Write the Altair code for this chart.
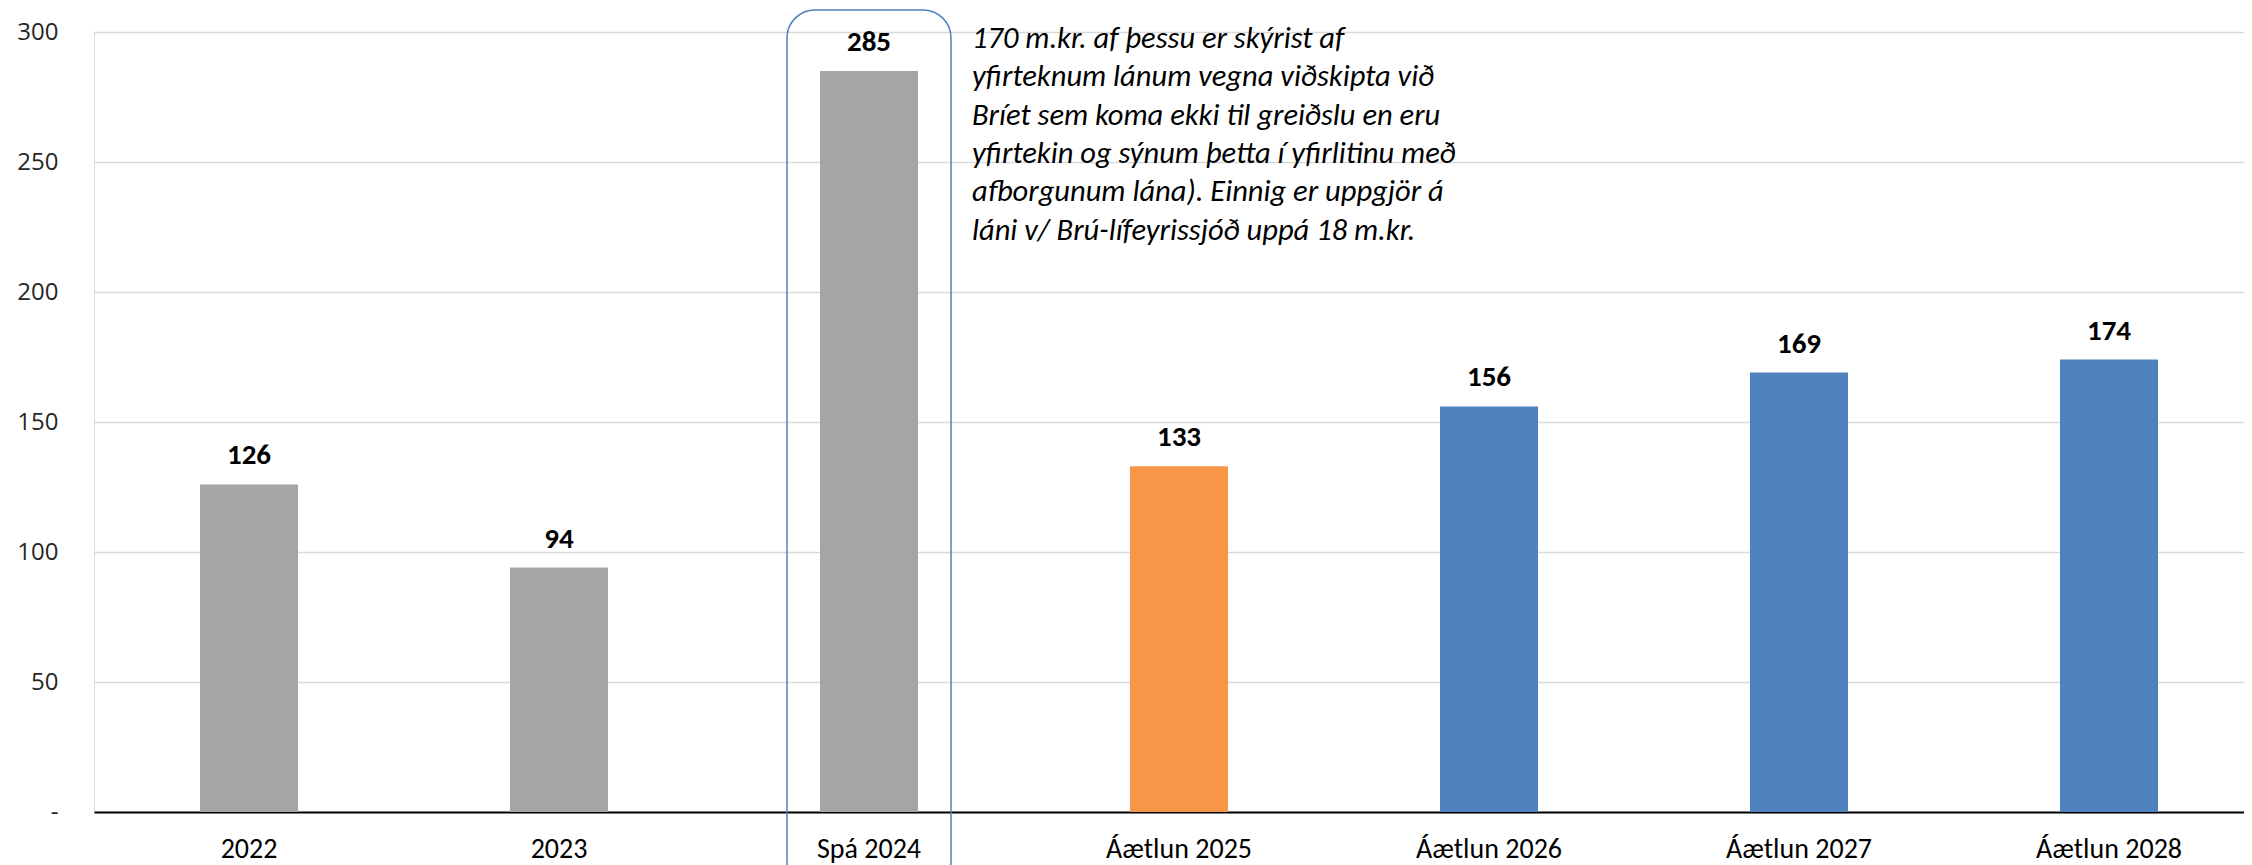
import altair as alt
import pandas as pd

categories = ["2022", "2023", "Spá 2024", "Áætlun 2025", "Áætlun 2026", "Áætlun 2027", "Áætlun 2028"]
values = [126, 94, 285, 133, 156, 169, 174]
groups = ["Raun", "Raun", "Raun", "Áætlun 2025", "Áætlun", "Áætlun", "Áætlun"]
group_names = ["Raun", "Áætlun 2025", "Áætlun"]
group_colors = ["#A5A5A5", "#F79646", "#4F81BD"]
y_ticks = [0, 50, 100, 150, 200, 250, 300]

note_category = "Spá 2024"
note_lines = [
    "170 m.kr. af þessu er skýrist af",
    "yfirteknum lánum vegna viðskipta við",
    "Bríet sem koma ekki til greiðslu en eru",
    "yfirtekin og sýnum þetta í yfirlitinu með",
    "afborgunum lána). Einnig er uppgjör á",
    "láni v/ Brú-lífeyrissjóð uppá 18 m.kr.",
]
box_top = 308.5
box_bottom = -30

NARROW = "Carlito, 'Liberation Sans Narrow', 'Roboto Condensed', 'Open Sans', sans-serif"

df = pd.DataFrame({"cat": categories, "val": values, "grp": groups})
note_df = pd.DataFrame({"cat": [note_category], "txt": ["\n".join(note_lines)], "y": [300]})
box_df = pd.DataFrame({"cat": [note_category], "top": [box_top], "bottom": [box_bottom]})

x_enc = alt.X("cat:N", sort=categories,
              scale=alt.Scale(domain=categories, range=[0, 2170], paddingInner=0, paddingOuter=0),
              axis=alt.Axis(title=None, labelAngle=0, labelFont=NARROW, labelFontSize=28,
                            labelColor="#000000", labelPadding=23, ticks=False,
                            domainColor="#000000", domainWidth=2, grid=False))
y_scale = alt.Scale(domain=[0, 300], nice=False)

bars = alt.Chart(df).mark_bar(size=98).encode(
    x=x_enc,
    y=alt.Y("val:Q", scale=y_scale,
            axis=alt.Axis(title=None, values=y_ticks, labelExpr="datum.value == 0 ? '-' : datum.label",
                          labelFont="Open Sans", labelFontSize=24, labelColor="#262626",
                          labelPadding=36, ticks=False, domain=False,
                          gridColor="#D9D9D9", gridWidth=1.5)),
    color=alt.Color("grp:N", scale=alt.Scale(domain=group_names, range=group_colors), legend=None),
)

labels = alt.Chart(df).mark_text(font=NARROW, fontSize=29, fontWeight="bold", color="#000000",
                                 baseline="alphabetic", dy=-20).encode(
    x=alt.X("cat:N", sort=categories),
    y=alt.Y("val:Q"),
    text=alt.Text("val:Q"),
)

box = alt.Chart(box_df).mark_bar(size=164, fillOpacity=0, stroke="#4F81BD", strokeWidth=1.5,
                                 cornerRadius=28).encode(
    x=alt.X("cat:N", sort=categories),
    y=alt.Y("top:Q"),
    y2="bottom:Q",
)

note = alt.Chart(note_df).mark_text(font=NARROW, fontSize=30.5, fontStyle="italic", color="#000000",
                                    align="left", baseline="alphabetic", lineBreak="\n",
                                    lineHeight=38.3, dx=103, dy=16).encode(
    x=alt.X("cat:N", sort=categories),
    y=alt.Y("y:Q"),
    text="txt:N",
)

chart = alt.layer(bars, box, labels, note).properties(
    width=2150, height=780,
    autosize=alt.AutoSizeParams(type="none"),
    padding={"left": 86, "top": 24, "right": 0, "bottom": 60},
).configure_view(stroke=None).configure(background="white")

chart.save("out.html", embed_options={"renderer": "svg", "actions": False})
